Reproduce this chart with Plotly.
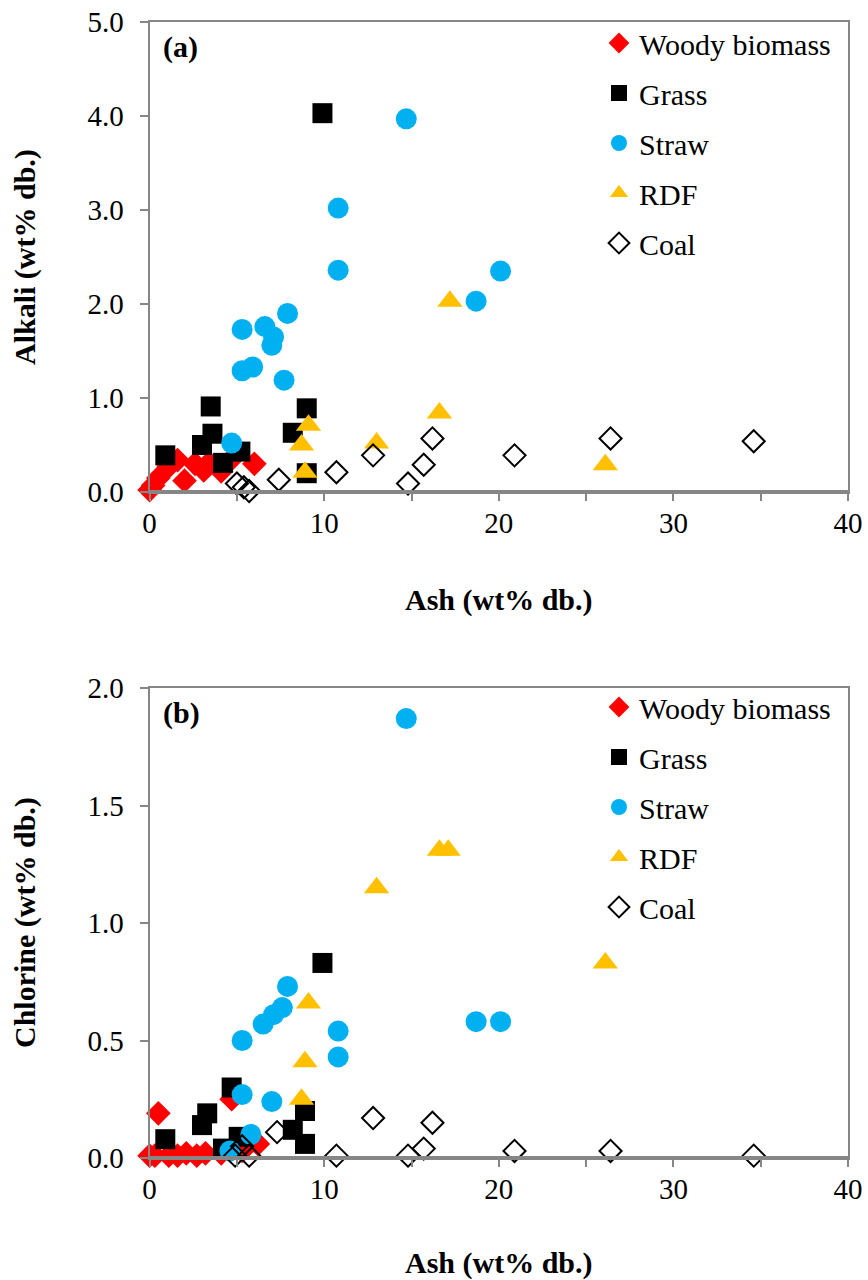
import plotly.graph_objects as go

# ---- Panel (a): alkali vs ash ----
wood_ash_a = [0.0, 0.2, 0.5, 1.1, 1.6, 2.0, 2.6, 3.1, 3.4, 4.1, 4.7, 6.0]
wood_alkali = [0.02, 0.07, 0.15, 0.27, 0.34, 0.12, 0.30, 0.23, 0.31, 0.22, 0.35, 0.30]

grass_ash_a = [9.9, 3.5, 0.9, 3.6, 3.0, 4.2, 5.2, 9.0, 8.2, 9.0]
grass_alkali = [4.03, 0.91, 0.39, 0.62, 0.50, 0.31, 0.43, 0.89, 0.63, 0.20]

straw_ash_a = [14.7, 10.8, 10.8, 20.1, 18.7, 7.9, 5.3, 6.6, 7.1, 7.0, 5.3, 5.9, 7.7, 4.7]
straw_alkali = [3.97, 3.02, 2.36, 2.35, 2.03, 1.90, 1.73, 1.76, 1.65, 1.56, 1.29, 1.33, 1.19, 0.52]

rdf_ash_a = [17.2, 16.6, 26.1, 13.0, 9.1, 8.7, 8.9]
rdf_alkali = [2.03, 0.84, 0.29, 0.52, 0.71, 0.50, 0.21]

coal_ash_a = [5.0, 5.4, 5.7, 7.4, 10.7, 12.8, 14.8, 15.7, 16.2, 20.9, 26.4, 34.6]
coal_alkali = [0.09, 0.05, 0.01, 0.13, 0.21, 0.39, 0.09, 0.29, 0.57, 0.39, 0.57, 0.54]

# ---- Panel (b): chlorine vs ash ----
wood_ash_b = [0.0, 0.3, 0.5, 1.1, 1.6, 2.1, 2.7, 3.2, 4.1, 4.7, 5.3, 6.2]
wood_chlorine = [0.01, 0.01, 0.19, 0.01, 0.01, 0.02, 0.01, 0.02, 0.02, 0.25, 0.03, 0.06]

grass_ash_b = [9.9, 4.7, 3.3, 3.0, 0.9, 4.2, 5.1, 8.9, 8.2, 8.9]
grass_chlorine = [0.83, 0.30, 0.19, 0.14, 0.08, 0.04, 0.09, 0.20, 0.12, 0.06]

straw_ash_b = [14.7, 10.8, 10.8, 20.1, 18.7, 7.9, 5.3, 6.5, 7.1, 7.0, 5.3, 5.8, 7.6, 4.6]
straw_chlorine = [1.87, 0.54, 0.43, 0.58, 0.58, 0.73, 0.50, 0.57, 0.61, 0.24, 0.27, 0.10, 0.64, 0.03]

rdf_ash_b = [13.0, 16.6, 17.1, 26.1, 9.1, 8.9, 8.7]
rdf_chlorine = [1.15, 1.31, 1.31, 0.83, 0.66, 0.41, 0.25]

coal_ash_b = [4.9, 5.3, 5.7, 7.3, 10.7, 12.8, 14.8, 15.7, 16.2, 20.9, 26.4, 34.6]
coal_chlorine = [0.01, 0.05, 0.01, 0.11, 0.01, 0.17, 0.01, 0.04, 0.15, 0.03, 0.03, 0.01]

names = ["Woody biomass", "Grass", "Straw", "RDF", "Coal"]
styles = [
    dict(symbol="diamond", size=19, color="#FF0000"),
    dict(symbol="square", size=20, color="#000000"),
    dict(symbol="circle", size=21, color="#00B0F0"),
    dict(symbol="triangle-up", size=22, color="#FFC000"),
    dict(symbol="diamond-open", size=17, color="#000000", line=dict(width=2, color="#000000")),
]

panel_a = [(wood_ash_a, wood_alkali), (grass_ash_a, grass_alkali), (straw_ash_a, straw_alkali),
           (rdf_ash_a, rdf_alkali), (coal_ash_a, coal_alkali)]
panel_b = [(wood_ash_b, wood_chlorine), (grass_ash_b, grass_chlorine), (straw_ash_b, straw_chlorine),
           (rdf_ash_b, rdf_chlorine), (coal_ash_b, coal_chlorine)]

fig = go.Figure()
for tag, data, xa, ya, leg in [("a", panel_a, "x", "y", "legend"), ("b", panel_b, "x2", "y2", "legend2")]:
    for name, (xs, ys), st in zip(names, data, styles):
        marker = dict(st)
        if "line" not in marker:
            marker["line"] = dict(width=0)
        fig.add_trace(go.Scatter(
            x=xs, y=ys, mode="markers", name=name, marker=marker,
            xaxis=xa, yaxis=ya, legend=leg, legendgroup=name + tag,
            cliponaxis=False,
        ))

GRAY = "#868686"
FONT = "Liberation Serif"
tickfont = dict(family=FONT, size=29, color="black")

xdom = [149.6 / 868, 848 / 868]
ydom_a = [1 - 492 / 1280, 1 - 22 / 1280]
ydom_b = [1 - 1158 / 1280, 1 - 688 / 1280]


def xaxis(anchor):
    return dict(domain=xdom, anchor=anchor, range=[0, 40], dtick=10, tick0=0,
                showline=True, linecolor=GRAY, linewidth=2, mirror=True,
                ticks="outside", ticklen=7, tickwidth=2, tickcolor=GRAY,
                minor=dict(dtick=5, ticks="outside", ticklen=7, tickwidth=2, tickcolor=GRAY),
                showgrid=False, zeroline=False, tickfont=tickfont, automargin=False,
                ticklabelstandoff=-3, fixedrange=True)


def yaxis(anchor, dom, top, step):
    return dict(domain=dom, anchor=anchor, range=[0, top], dtick=step, tick0=0,
                tickformat=".1f", showline=True, linecolor=GRAY, linewidth=2, mirror=True,
                ticks="outside", ticklen=8, tickwidth=2, tickcolor=GRAY,
                showgrid=False, zeroline=False, tickfont=tickfont, automargin=False,
                ticklabelstandoff=10, fixedrange=True)


legend_common = dict(font=dict(family=FONT, size=30, color="black"), bgcolor="rgba(0,0,0,0)",
                     traceorder="grouped", tracegroupgap=8, xanchor="left", yanchor="top",
                     itemclick=False, itemdoubleclick=False)

fig.update_layout(
    width=868, height=1280, margin=dict(l=0, r=0, t=0, b=0, autoexpand=False),
    paper_bgcolor="white", plot_bgcolor="white",
    xaxis=xaxis("y"), yaxis=yaxis("x", ydom_a, 5, 1),
    xaxis2=xaxis("y2"), yaxis2=yaxis("x2", ydom_b, 2, 0.5),
    legend=dict(x=599 / 868, y=1 - 17 / 1280, **legend_common),
    legend2=dict(x=599 / 868, y=1 - 681 / 1280, **legend_common),
    showlegend=True,
)

# heavier baseline along the bottom of each plot area
for xr, yr in [("x domain", "y domain"), ("x2 domain", "y2 domain")]:
    fig.add_shape(type="line", xref=xr, yref=yr, x0=0, x1=1, y0=0, y1=0,
                  line=dict(color=GRAY, width=4))

titlefont = dict(family=FONT, size=30, color="black")
xc = (xdom[0] + xdom[1]) / 2
annotations = [
    dict(text="<b>(a)</b>", x=161 / 868, y=1 - 47 / 1280, xanchor="left", yanchor="middle"),
    dict(text="<b>(b)</b>", x=161 / 868, y=1 - 713 / 1280, xanchor="left", yanchor="middle"),
    dict(text="<b>Ash (wt% db.)</b>", x=xc, y=1 - 600 / 1280, xanchor="center", yanchor="middle"),
    dict(text="<b>Ash (wt% db.)</b>", x=xc, y=1 - 1263 / 1280, xanchor="center", yanchor="middle"),
    dict(text="<b>Alkali (wt% db.)</b>", x=25 / 868, y=1 - 257 / 1280, xanchor="center",
         yanchor="middle", textangle=-90),
    dict(text="<b>Chlorine (wt% db.)</b>", x=25 / 868, y=1 - 923 / 1280, xanchor="center",
         yanchor="middle", textangle=-90),
]
for a in annotations:
    fig.add_annotation(xref="paper", yref="paper", showarrow=False, font=titlefont, **a)

fig.write_html("out.html")
